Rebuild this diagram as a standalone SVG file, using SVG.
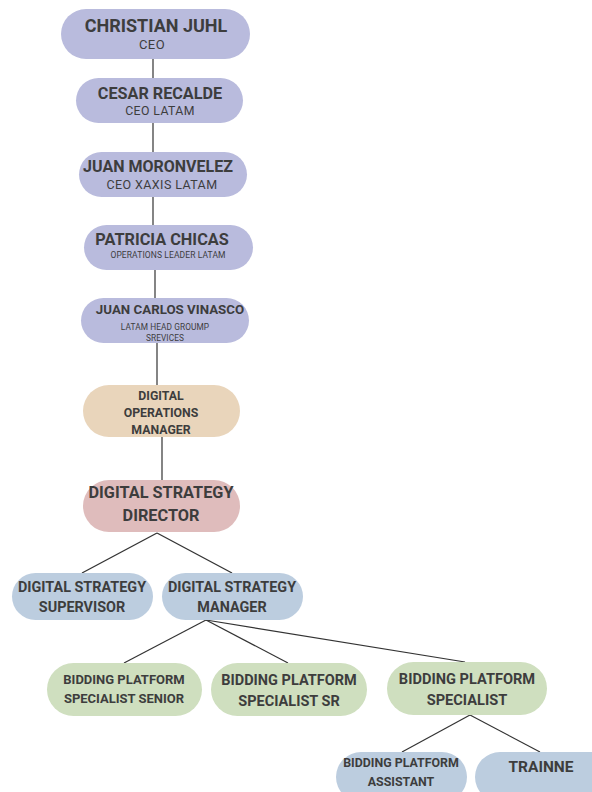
<svg xmlns="http://www.w3.org/2000/svg" width="592" height="792" viewBox="0 0 592 792">
<style>
.lav{fill:#b9bbdd}
.tan{fill:#e9d5bb}
.pink{fill:#dfbcbc}
.blue{fill:#bccddf}
.green{fill:#cfdfbf}
text{font-family:Roboto,"Liberation Sans",sans-serif;fill:#3d3d3d;text-anchor:middle}
.b{font-weight:700}
.r{font-weight:400;letter-spacing:0.4px}
#connectors line{stroke:#333;stroke-width:1.2}
</style>
<rect width="592" height="792" fill="#ffffff"/>
<g id="connectors">
<line x1="153" y1="59" x2="153" y2="79"/>
<line x1="153" y1="123" x2="153" y2="152"/>
<line x1="153" y1="197" x2="153" y2="225"/>
<line x1="155" y1="270" x2="155" y2="298"/>
<line x1="157" y1="343" x2="157" y2="385"/>
<line x1="162" y1="437" x2="162" y2="480"/>
<line x1="157" y1="533" x2="82" y2="573"/>
<line x1="157" y1="533" x2="232" y2="573"/>
<line x1="206" y1="620" x2="124" y2="663"/>
<line x1="206" y1="620" x2="288" y2="663"/>
<line x1="206" y1="620" x2="465" y2="662"/>
<line x1="470" y1="715" x2="402" y2="752"/>
<line x1="470" y1="715" x2="540" y2="752"/>
</g>
<g id="n1"><rect class="lav" x="61" y="9" width="189" height="50" rx="25"/>
<text class="b" x="156" y="32" font-size="18">CHRISTIAN JUHL</text>
<text class="r" x="152" y="49" font-size="13">CEO</text></g>
<g id="n2"><rect class="lav" x="76" y="78" width="167" height="45" rx="22.5"/>
<text class="b" x="160" y="99" font-size="16.2">CESAR RECALDE</text>
<text class="r" x="160" y="115" font-size="12.3">CEO LATAM</text></g>
<g id="n3"><rect class="lav" x="79" y="152" width="168" height="45" rx="22.5"/>
<text class="b" x="158" y="172" font-size="16">JUAN MORONVELEZ</text>
<text class="r" x="162" y="188.5" font-size="12.5">CEO XAXIS LATAM</text></g>
<g id="n4"><rect class="lav" x="84" y="225" width="169" height="45" rx="22.5"/>
<text class="b" x="162" y="245" font-size="16.3">PATRICIA CHICAS</text>
<text class="r" x="168" y="258" font-size="8.5" style="letter-spacing:0.1px">OPERATIONS LEADER LATAM</text></g>
<g id="n5"><rect class="lav" x="81" y="298" width="168" height="45" rx="22.5"/>
<text class="b" x="170" y="314" font-size="13.3">JUAN CARLOS VINASCO</text>
<text class="r" x="165" y="330" font-size="8.3" style="letter-spacing:0.1px">LATAM HEAD GROUMP</text>
<text class="r" x="165" y="341" font-size="8.3" style="letter-spacing:0.1px">SREVICES</text></g>
<g id="n6"><rect class="tan" x="83" y="385" width="157" height="52" rx="26"/>
<text class="b" x="161" y="400" font-size="12.3">DIGITAL</text>
<text class="b" x="161" y="417" font-size="12.3">OPERATIONS</text>
<text class="b" x="161" y="434" font-size="12.3">MANAGER</text></g>
<g id="n7"><rect class="pink" x="83" y="480" width="157" height="52" rx="26"/>
<text class="b" x="161" y="498" font-size="16.3">DIGITAL STRATEGY</text>
<text class="b" x="161" y="521" font-size="16.3">DIRECTOR</text></g>
<g id="n8"><rect class="blue" x="12" y="573" width="141" height="47" rx="23.5"/>
<text class="b" x="82" y="592" font-size="14.4">DIGITAL STRATEGY</text>
<text class="b" x="82" y="612" font-size="14.4">SUPERVISOR</text></g>
<g id="n9"><rect class="blue" x="162" y="573" width="141" height="47" rx="23.5"/>
<text class="b" x="232" y="592" font-size="14.4">DIGITAL STRATEGY</text>
<text class="b" x="232" y="612" font-size="14.4">MANAGER</text></g>
<g id="n10"><rect class="green" x="47" y="663" width="155" height="53" rx="26.5"/>
<text class="b" x="124" y="684" font-size="13">BIDDING PLATFORM</text>
<text class="b" x="124" y="703" font-size="13">SPECIALIST SENIOR</text></g>
<g id="n11"><rect class="green" x="211" y="663" width="156" height="53" rx="26.5"/>
<text class="b" x="289" y="685" font-size="14.5">BIDDING PLATFORM</text>
<text class="b" x="289" y="706" font-size="14.5">SPECIALIST SR</text></g>
<g id="n12"><rect class="green" x="387" y="662" width="160" height="53" rx="26.5"/>
<text class="b" x="467" y="684" font-size="14.6">BIDDING PLATFORM</text>
<text class="b" x="467" y="705" font-size="14.6">SPECIALIST</text></g>
<g id="n13"><rect class="blue" x="336" y="752" width="131" height="50" rx="25"/>
<text class="b" x="401" y="767" font-size="12.4">BIDDING PLATFORM</text>
<text class="b" x="401" y="786" font-size="12.4">ASSISTANT</text></g>
<g id="n14"><rect class="blue" x="475" y="752" width="140" height="50" rx="25"/>
<text class="b" x="541" y="772" font-size="15.5">TRAINNE</text></g>
</svg>
